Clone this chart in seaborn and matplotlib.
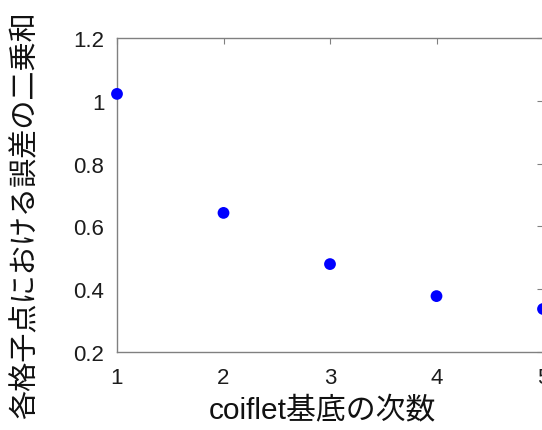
import matplotlib
matplotlib.use("Agg")
import matplotlib.pyplot as plt
import seaborn as sns
import pandas as pd

# coiflet order and squared-error sum over grid points
order = [1, 2, 3, 4, 5]
sq_error = [1.022, 0.643, 0.480, 0.378, 0.337]
x_ticks = [1, 2, 3, 4, 5]
y_ticks = [0.2, 0.4, 0.6, 0.8, 1.0, 1.2]
y_tick_labels = ["0.2", "0.4", "0.6", "0.8", "1", "1.2"]

sns.set_theme(style="white")
plt.rcParams["font.family"] = ["Liberation Sans", "Noto Sans CJK JP", "DejaVu Sans"]

df = pd.DataFrame({"order": order, "err": sq_error})

W, H = 542, 431
fig = plt.figure(figsize=(W / 100, H / 100), dpi=100)
fig.patch.set_facecolor("white")
ax = fig.add_axes([117 / W, 1 - 353 / H, (543 - 117) / W, (353 - 39) / H])

sns.scatterplot(data=df, x="order", y="err", ax=ax, color="#0000ff",
                s=72, edgecolor="none", clip_on=False, zorder=5)

ax.set_xlim(1, 5)
ax.set_ylim(0.2, 1.2)
ax.set_xticks(x_ticks)
ax.set_yticks(y_ticks)
ax.set_yticklabels(y_tick_labels)

for sp in ax.spines.values():
    sp.set_color("#808080")
    sp.set_linewidth(1.0)

ax.tick_params(axis="both", direction="in", length=4, width=0.8,
               colors="#808080", labelcolor="#1c1c1c", labelsize=16,
               top=True, right=True)
ax.tick_params(axis="x", pad=11)
ax.tick_params(axis="y", pad=9)

ax.set_xlabel("coiflet基底の次数", fontsize=21.5, color="#111111",
              family=["Liberation Sans", "Noto Sans CJK JP"])
ax.set_ylabel("各格子点における誤差の二乗和", fontsize=21, color="#111111",
              family=["Noto Sans CJK JP"])
ax.xaxis.set_label_coords((322 - 117) / (543 - 117), -(410 - 353) / (353 - 39))
ax.yaxis.set_label_coords(-(117 - 25) / (543 - 117), (353 - 215) / (353 - 39))
ax.xaxis.label.set_va("center")
ax.yaxis.label.set_va("center")

fig.savefig("out.png", dpi=100, facecolor="white")
